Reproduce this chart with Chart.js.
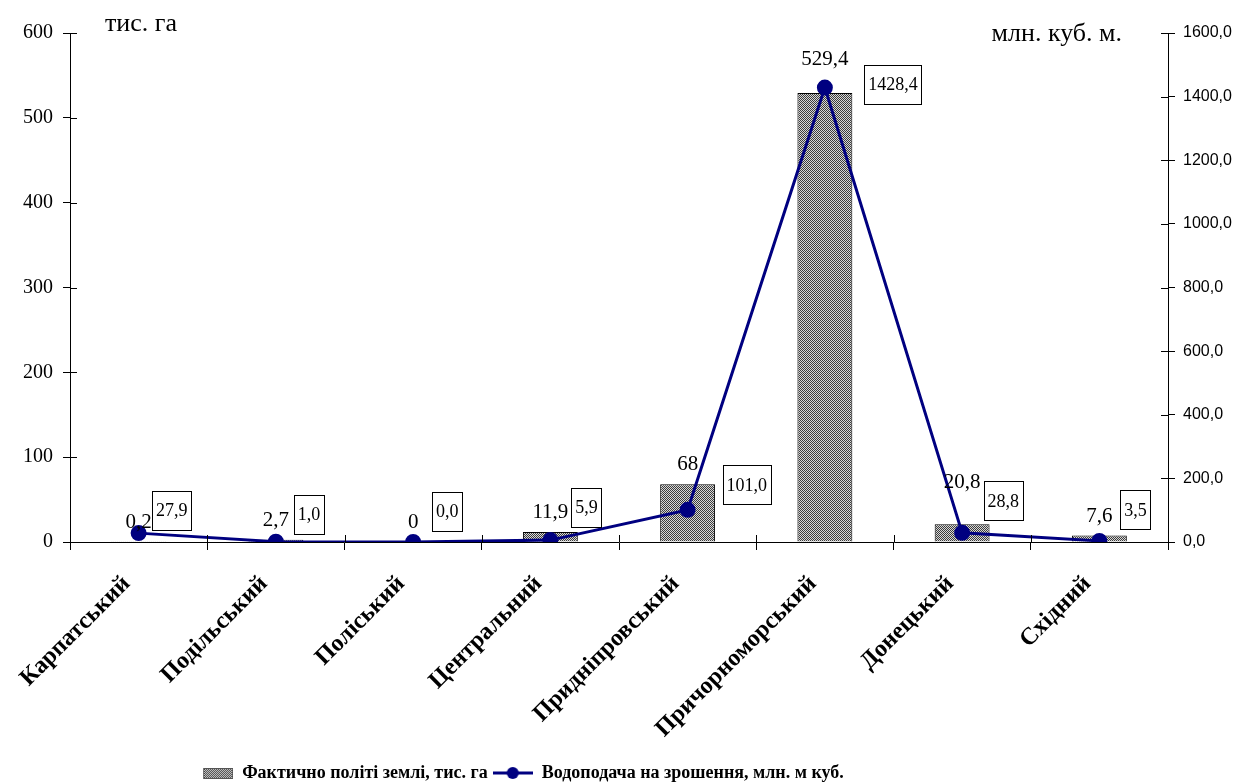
<!DOCTYPE html>
<html>
<head>
<meta charset="utf-8">
<script src="https://cdn.jsdelivr.net/npm/chart.js@4.4.0/dist/chart.umd.min.js"></script>
<style>
  body { margin: 0; background: #fff; }
</style>
</head>
<body>
<canvas id="irrigationChart" width="1237" height="783"></canvas>
<script>
// Data
const regions = ['Карпатський', 'Подільський', 'Поліський', 'Центральний',
                 'Придніпровський', 'Причорноморський', 'Донецький', 'Східний'];
const irrigatedArea = [0.2, 2.7, 0, 11.9, 68, 529.4, 20.8, 7.6];          // тис. га
const waterSupply = [27.9, 1.0, 0.0, 5.9, 101.0, 1428.4, 28.8, 3.5];       // млн. куб. м
const areaTicks = [0, 100, 200, 300, 400, 500, 600];
const waterTicks = [0, 200, 400, 600, 800, 1000, 1200, 1400, 1600];

const SERIF = '"Liberation Serif", "Times New Roman", serif';
const SANS = '"Liberation Sans", Arial, sans-serif';
const NAVY = '#000080';

// grey checker fill like the Excel pattern
function makePattern() {
    const c = document.createElement('canvas');
    c.width = 2; c.height = 2;
    const g = c.getContext('2d');
    g.fillStyle = '#d8d8d8'; g.fillRect(0, 0, 2, 2);
    g.fillStyle = '#3c3c3c'; g.fillRect(0, 0, 1, 1); g.fillRect(1, 1, 1, 1);
    return g.createPattern(c, 'repeat');
}
const barFill = makePattern();

function legendBarIcon() {
    const c = document.createElement('canvas');
    c.width = 40; c.height = 14;
    const g = c.getContext('2d');
    g.fillStyle = barFill; g.fillRect(10, 2, 30, 11);
    g.strokeStyle = '#555'; g.lineWidth = 1; g.strokeRect(10.5, 2.5, 29, 10);
    return c;
}
function legendLineIcon() {
    const c = document.createElement('canvas');
    c.width = 40; c.height = 14;
    const g = c.getContext('2d');
    g.strokeStyle = NAVY; g.lineWidth = 3;
    g.beginPath(); g.moveTo(0, 7); g.lineTo(40, 7); g.stroke();
    g.fillStyle = NAVY; g.beginPath(); g.arc(20, 7, 6, 0, Math.PI * 2); g.fill();
    return c;
}

const fmtArea = v => String(v).replace('.', ',');
const fmtWater = v => v.toFixed(1).replace('.', ',');

const labelPlugin = {
    id: 'valueLabels',
    afterLayout(chart, args, opts) {
        // the legend sits left of centre and close to the bottom edge in the original
        const lg = chart.legend;
        lg.left += opts.legendShift;
        lg.right += opts.legendShift;
        lg.top += opts.legendDrop;
        lg.bottom += opts.legendDrop;
    },
    afterDatasetsDraw(chart, args, opts) {
        const ctx = chart.ctx;
        const bars = chart.getDatasetMeta(0).data;
        const pts = chart.getDatasetMeta(1).data;
        ctx.save();
        ctx.fillStyle = '#000';
        ctx.textAlign = 'center';
        ctx.textBaseline = 'alphabetic';
        ctx.font = '21px ' + SERIF;
        bars.forEach((bar, i) => {
            ctx.fillText(fmtArea(irrigatedArea[i]), bar.x, bar.y - 14 - opts.lift[i]);
        });
        ctx.font = '18px ' + SERIF;
        ctx.textBaseline = 'middle';
        ctx.lineWidth = 1;
        ctx.strokeStyle = '#000';
        pts.forEach((pt, i) => {
            const txt = fmtWater(waterSupply[i]);
            const w = Math.round(ctx.measureText(txt).width) + 7;
            const h = 39;
            const cx = pt.x + opts.shift[i][0];
            const cy = pt.y + opts.shift[i][1];
            const bx = Math.round(cx - w / 2) + 0.5, by = Math.round(cy - h / 2) + 0.5;
            ctx.fillStyle = '#fff';
            ctx.fillRect(bx, by, w, h);
            ctx.strokeRect(bx, by, w, h);
            ctx.fillStyle = '#000';
            ctx.fillText(txt, cx, cy + 1);
        });
        ctx.restore();
    },
    afterDraw(chart) {
        const ctx = chart.ctx;
        const a = chart.chartArea;
        ctx.save();
        // inner halves of the tick marks (they cross the axis lines)
        ctx.strokeStyle = '#000';
        ctx.lineWidth = 1;
        ctx.beginPath();
        chart.scales.y.ticks.forEach(t => {
            const y = Math.round(chart.scales.y.getPixelForValue(t.value)) + 0.5;
            ctx.moveTo(a.left, y); ctx.lineTo(a.left + 7, y);
        });
        chart.scales.y1.ticks.forEach(t => {
            const y = Math.round(chart.scales.y1.getPixelForValue(t.value)) + 0.5;
            ctx.moveTo(a.right - 7, y); ctx.lineTo(a.right, y);
        });
        const xs = chart.scales.x;
        for (let i = 1; i < regions.length; i++) {
            const x = Math.round(xs.left + xs.width * i / regions.length) + 0.5;
            ctx.moveTo(x, a.bottom - 7); ctx.lineTo(x, a.bottom);
        }
        ctx.stroke();
        // unit captions
        ctx.fillStyle = '#000';
        ctx.font = '26px ' + SERIF;
        ctx.textBaseline = 'alphabetic';
        ctx.textAlign = 'left';
        ctx.fillText('тис. га', a.left + 35, a.top - 2);
        ctx.textAlign = 'right';
        ctx.fillText('млн. куб. м.', a.right - 46, a.top + 8);
        ctx.restore();
    }
};

new Chart(document.getElementById('irrigationChart').getContext('2d'), {
    data: {
        labels: regions,
        datasets: [{
            type: 'bar',
            label: 'Фактично політі землі, тис. га',
            data: irrigatedArea,
            yAxisID: 'y',
            backgroundColor: barFill,
            borderColor: '#000',
            borderWidth: 1,
            barPercentage: 0.4,
            categoryPercentage: 1,
            order: 1
        }, {
            type: 'line',
            label: 'Водоподача на зрошення, млн. м куб.',
            data: waterSupply,
            yAxisID: 'y1',
            borderColor: NAVY,
            borderWidth: 3,
            pointRadius: 6.5,
            pointBackgroundColor: NAVY,
            pointBorderColor: NAVY,
            tension: 0,
            order: 0
        }]
    },
    options: {
        responsive: false,
        animation: false,
        layout: { padding: { top: 33, left: 0, right: 0, bottom: 0 } },
        plugins: {
            tooltip: { enabled: false },
            legend: {
                position: 'bottom',
                labels: {
                    usePointStyle: true,
                    pointStyleWidth: 40,
                    padding: 5,
                    color: '#000',
                    font: { family: SERIF, size: 18, weight: 'bold' },
                    sort: (a, b) => a.datasetIndex - b.datasetIndex,
                    generateLabels(chart) {
                        const items = Chart.defaults.plugins.legend.labels.generateLabels(chart);
                        items.forEach(it => {
                            it.pointStyle = it.datasetIndex === 0 ? legendBarIcon() : legendLineIcon();
                        });
                        return items;
                    }
                }
            },
            valueLabels: {
                legendShift: -100,
                legendDrop: 9,
                lift: [0, 0, 0, 0, 0, 14, 22, 0],
                shift: [[33, -23], [33, -27], [34, -31], [36, -33], [59, -25], [68, -3], [41, -32], [36, -31]]
            }
        },
        scales: {
            x: {
                grid: { drawOnChartArea: false, tickLength: 8, color: '#000', offset: true },
                border: { color: '#000' },
                ticks: {
                    color: '#000',
                    autoSkip: false,
                    maxRotation: 45,
                    minRotation: 45,
                    padding: 20,
                    labelOffset: -12,
                    font: { family: SERIF, size: 24, weight: 'bold' }
                },
                afterFit(s) { s.height = 208; }
            },
            y: {
                position: 'left',
                min: 0,
                max: 600,
                afterBuildTicks(s) { s.ticks = areaTicks.map(v => ({ value: v })); },
                grid: { drawOnChartArea: false, tickLength: 7, color: '#000' },
                border: { color: '#000' },
                ticks: {
                    color: '#000',
                    padding: 10,
                    font: { family: SERIF, size: 20 }
                },
                afterFit(s) { s.width = 70; }
            },
            y1: {
                position: 'right',
                min: 0,
                max: 1600,
                afterBuildTicks(s) { s.ticks = waterTicks.map(v => ({ value: v })); },
                grid: { drawOnChartArea: false, tickLength: 7, color: '#000' },
                border: { color: '#000' },
                ticks: {
                    color: '#000',
                    padding: 8,
                    font: { family: SANS, size: 16 },
                    callback: v => fmtWater(v)
                },
                afterFit(s) { s.width = 69; }
            }
        }
    },
    plugins: [labelPlugin]
});
</script>
</body>
</html>
